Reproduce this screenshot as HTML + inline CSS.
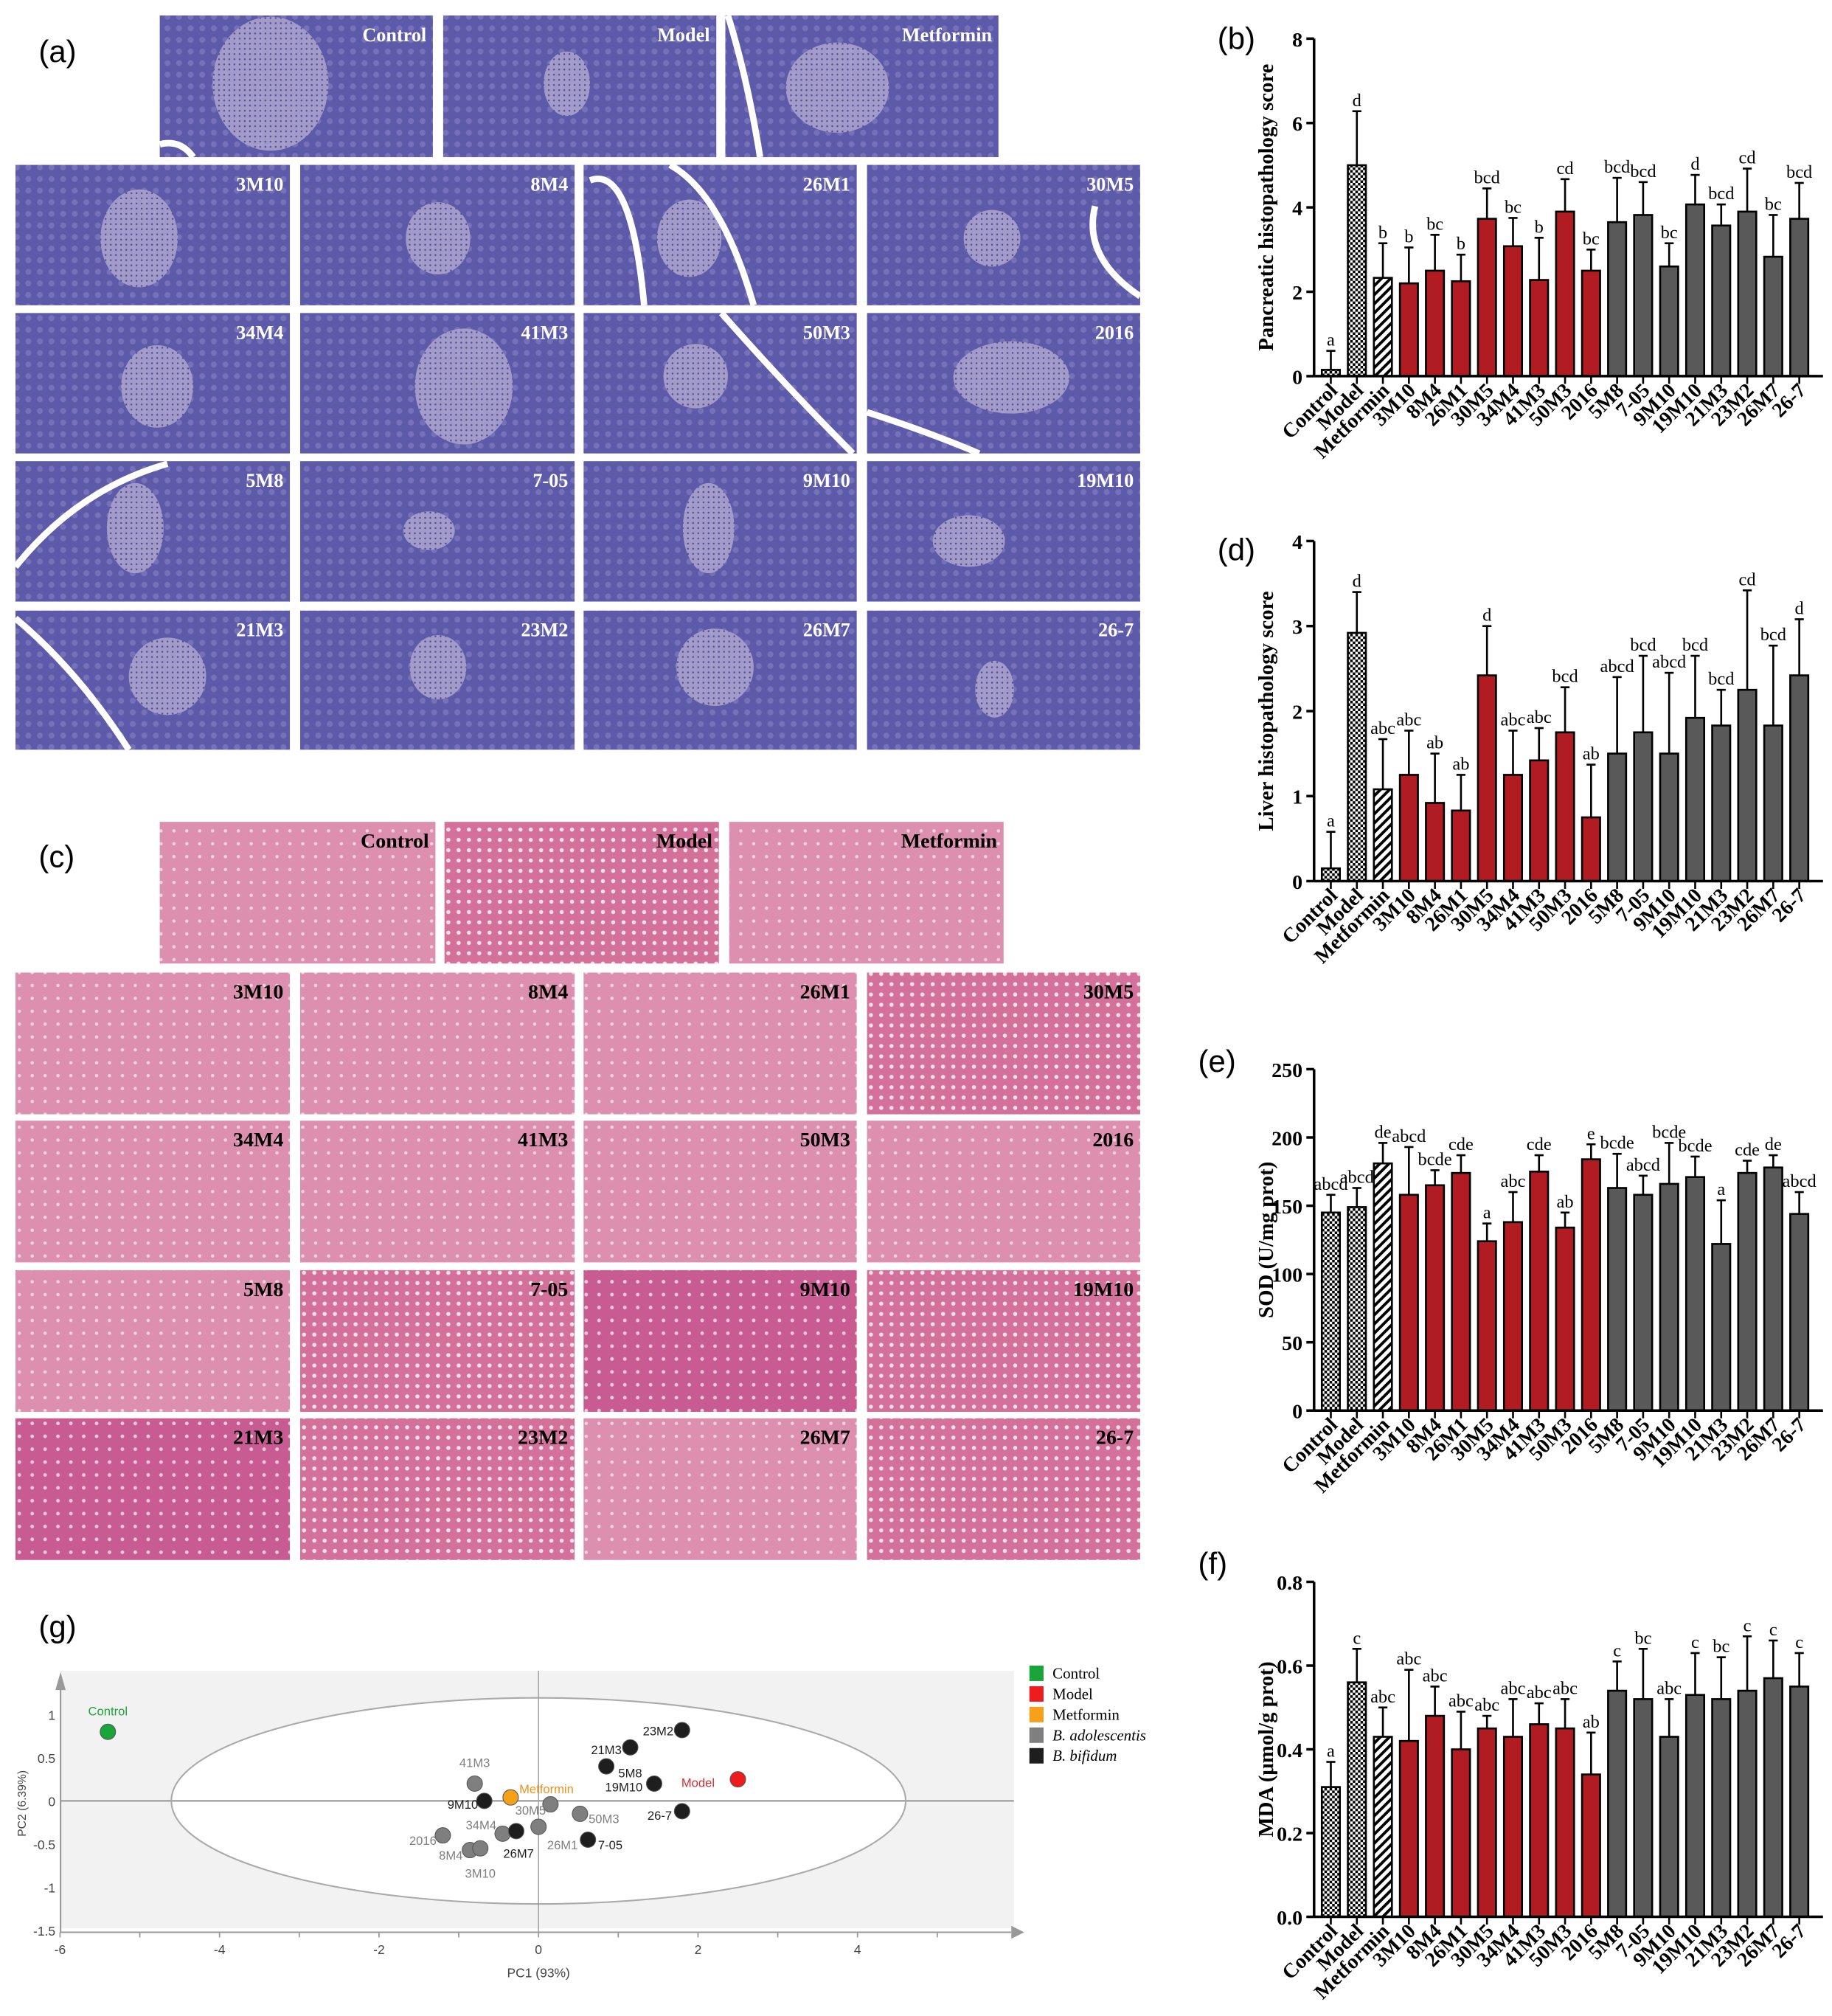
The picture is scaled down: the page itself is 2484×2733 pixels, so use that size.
<!DOCTYPE html>
<html><head><meta charset="utf-8">
<style>html,body{margin:0;padding:0;background:#fff;width:2484px;height:2733px;overflow:hidden}svg{display:block}</style>
</head><body>
<svg id="s" width="2484" height="2733" viewBox="0 0 1422 1565" preserveAspectRatio="none" xmlns="http://www.w3.org/2000/svg">
<defs>
<pattern id="chk" width="4" height="4" patternUnits="userSpaceOnUse"><rect width="4" height="4" fill="#fff"/><rect width="2" height="2" fill="#000"/><rect x="2" y="2" width="2" height="2" fill="#000"/></pattern>
<pattern id="hat" width="5" height="5" patternUnits="userSpaceOnUse" patternTransform="rotate(45)"><rect width="5" height="5" fill="#fff"/><rect width="2.2" height="5" fill="#000"/></pattern>
<pattern id="pur" width="9" height="9" patternUnits="userSpaceOnUse"><rect width="9" height="9" fill="#5d5ba9"/><circle cx="4" cy="4" r="2.3" fill="#7671b8"/></pattern>
<pattern id="isl" width="4" height="4" patternUnits="userSpaceOnUse"><rect width="4" height="4" fill="#aaa2cc"/><circle cx="2" cy="2" r="0.7" fill="#4a4790"/></pattern>
<pattern id="pk" width="10" height="10" patternUnits="userSpaceOnUse"><rect width="10" height="10" fill="#dc8fae"/><circle cx="5" cy="5" r="1.3" fill="#f3d3e0"/></pattern>
<pattern id="pk2" width="8" height="8" patternUnits="userSpaceOnUse"><rect width="8" height="8" fill="#d3719b"/><circle cx="4" cy="4" r="1.6" fill="#f6e1ea"/></pattern>
<pattern id="pk3" width="10" height="10" patternUnits="userSpaceOnUse"><rect width="10" height="10" fill="#c95b93"/><circle cx="5" cy="5" r="1.4" fill="#f0c9dc"/></pattern>
</defs>
<g id="g"></g>
</svg>
<script>
var out=[];
function a(s){out.push(s);}
function T(x,y,t,o){o=o||{};a('<text x="'+x+'" y="'+y+'" font-family="'+(o.f||'Liberation Serif')+'" font-size="'+(o.s||14)+'" font-weight="'+(o.w||'bold')+'" fill="'+(o.c||'#000')+'" text-anchor="'+(o.a||'start')+'"'+(o.t?' transform="'+o.t+'"':'')+(o.st?' font-style="'+o.st+'"':'')+'>'+t+'</text>');}
T(30,48,'(a)',{f:'Liberation Sans',w:'normal',s:24});
T(30,673,'(c)',{f:'Liberation Sans',w:'normal',s:24});
T(945,38,'(b)',{f:'Liberation Sans',w:'normal',s:24});
T(945,435,'(d)',{f:'Liberation Sans',w:'normal',s:24});
T(930,832,'(e)',{f:'Liberation Sans',w:'normal',s:24});
T(930,1222,'(f)',{f:'Liberation Sans',w:'normal',s:24});
T(30,1271,'(g)',{f:'Liberation Sans',w:'normal',s:24});
var top3=[[124,336],[344,556],[563,775]], cols=[[12,225],[233,446],[453,665],[673,885]];
var ra=[[128,237],[243,352],[358,467],[474,582]];
var na=[['3M10','8M4','26M1','30M5'],['34M4','41M3','50M3','2016'],['5M8','7-05','9M10','19M10'],['21M3','23M2','26M7','26-7']];
var isl={'Control':[210,65,45,52],'Model':[440,65,18,25],'Metformin':[650,68,40,35],'3M10':[108,185,30,38],'8M4':[340,185,25,28],'26M1':[535,185,25,30],'30M5':[770,185,22,22],
'34M4':[122,300,28,32],'41M3':[360,300,38,45],'50M3':[540,292,25,25],'2016':[785,293,45,28],'5M8':[105,410,22,35],'7-05':[333,412,20,15],'9M10':[550,410,20,35],'19M10':[752,420,28,20],
'21M3':[130,525,30,30],'23M2':[340,518,22,25],'26M7':[555,518,30,30],'26-7':[772,535,15,22]};
function pa(x0,x1,y0,y1,lab){a('<rect x="'+x0+'" y="'+y0+'" width="'+(x1-x0)+'" height="'+(y1-y0)+'" fill="url(#pur)"/>');
 var e=isl[lab];a('<ellipse cx="'+e[0]+'" cy="'+e[1]+'" rx="'+e[2]+'" ry="'+e[3]+'" fill="url(#isl)" opacity="0.9"/>');
 T(x1-5,y0+20,lab,{c:'#fff',a:'end',s:15});}
['Control','Model','Metformin'].forEach(function(l,i){pa(top3[i][0],top3[i][1],12,122,l);});
for(var r=0;r<4;r++)for(var c=0;c<4;c++)pa(cols[c][0],cols[c][1],ra[r][0],ra[r][1],na[r][c]);
a('<path d="M124 112 Q140 108 150 122 M458 140 Q490 128 500 237 M520 128 Q560 150 585 237 M850 160 Q840 200 885 230 M560 243 Q610 300 662 352 M673 320 Q720 335 760 352 M12 440 Q60 380 130 360 M12 480 Q60 520 100 582 M565 12 Q580 60 590 122" stroke="#fff" stroke-width="5" fill="none"/>');
var topc=[[124,338],[345,558],[566,779]];
var rc=[[755,865],[870,980],[986,1096],[1101,1211]];
var pat={'Model':'pk2','9M10':'pk3','21M3':'pk3','7-05':'pk2','19M10':'pk2','23M2':'pk2','26-7':'pk2','30M5':'pk2'};
function pc(x0,x1,y0,y1,lab){a('<rect x="'+x0+'" y="'+y0+'" width="'+(x1-x0)+'" height="'+(y1-y0)+'" fill="url(#'+(pat[lab]||'pk')+')"/>');T(x1-5,y0+20,lab,{a:'end',s:16});}
['Control','Model','Metformin'].forEach(function(l,i){pc(topc[i][0],topc[i][1],638,748,l);});
for(var r=0;r<4;r++)for(var c=0;c<4;c++)pc(cols[c][0],cols[c][1],rc[r][0],rc[r][1],na[r][c]);
var names=['Control','Model','Metformin','3M10','8M4','26M1','30M5','34M4','41M3','50M3','2016','5M8','7-05','9M10','19M10','21M3','23M2','26M7','26-7'];
function fillFor(i){if(i<=1)return 'url(#chk)';if(i==2)return 'url(#hat)';return i<=10?'#b11b22':'#595959';}
function chart(y0,yTop,max,step,dec,vals,errs,lets,ylab){
 var ax=1020,x1=1415;function Y(v){return y0-(v/max)*(y0-yTop);}
 a('<line x1="'+ax+'" y1="'+yTop+'" x2="'+ax+'" y2="'+y0+'" stroke="#000" stroke-width="2"/>');
 for(var v=0;v<=max+1e-9;v+=step){var yy=Y(v);a('<line x1="'+(ax-6)+'" y1="'+yy+'" x2="'+ax+'" y2="'+yy+'" stroke="#000" stroke-width="2"/>');T(ax-9,yy+6,dec?v.toFixed(dec):String(Math.round(v)),{a:'end',s:16});}
 T(0,0,ylab,{a:'middle',s:16.5,t:'translate(988,'+((y0+yTop)/2)+') rotate(-90)'});
 for(var i=0;i<19;i++){var cx=1033+i*20.2,bw=14,yb=Y(vals[i]),ye=Y(errs[i]);
  a('<line x1="'+cx+'" y1="'+ye+'" x2="'+cx+'" y2="'+yb+'" stroke="#000" stroke-width="1.5"/><line x1="'+(cx-3.5)+'" y1="'+ye+'" x2="'+(cx+3.5)+'" y2="'+ye+'" stroke="#000" stroke-width="1.5"/>');
  a('<rect x="'+(cx-bw/2)+'" y="'+yb+'" width="'+bw+'" height="'+(y0-yb)+'" fill="'+fillFor(i)+'" stroke="#000" stroke-width="1.5"/>');
  T(cx,ye-4,lets[i],{a:'middle',s:14,w:'normal'});
  a('<line x1="'+cx+'" y1="'+y0+'" x2="'+cx+'" y2="'+(y0+6)+'" stroke="#000" stroke-width="1.5"/>');
  T(0,0,names[i],{a:'end',s:16,t:'translate('+(cx+6)+','+(y0+12)+') rotate(-45)'});}
 a('<line x1="'+ax+'" y1="'+y0+'" x2="'+x1+'" y2="'+y0+'" stroke="#000" stroke-width="2"/>');}
chart(292,30,8,2,0,[0.15,5,2.33,2.2,2.5,2.25,3.73,3.08,2.28,3.9,2.5,3.65,3.82,2.6,4.07,3.57,3.9,2.83,3.73],
[0.6,6.28,3.15,3.05,3.35,2.88,4.45,3.75,3.28,4.67,3.0,4.7,4.6,3.15,4.77,4.07,4.92,3.82,4.58],
['a','d','b','b','bc','b','bcd','bc','b','cd','bc','bcd','bcd','bc','d','bcd','cd','bc','bcd'],'Pancreatic histopathology score');
chart(684,420,4,1,0,[0.15,2.92,1.08,1.25,0.92,0.83,2.42,1.25,1.42,1.75,0.75,1.5,1.75,1.5,1.92,1.83,2.25,1.83,2.42],
[0.58,3.4,1.67,1.77,1.5,1.25,3.0,1.77,1.8,2.28,1.37,2.4,2.65,2.45,2.65,2.25,3.42,2.77,3.08],
['a','d','abc','abc','ab','ab','d','abc','abc','bcd','ab','abcd','bcd','abcd','bcd','bcd','cd','bcd','d'],'Liver histopathology score');
chart(1095,830,250,50,0,[145,149,181,158,165,174,124,138,175,134,184,163,158,166,171,122,174,178,144],
[158,163,196,193,176,187,137,160,187,145,195,188,172,196,186,154,183,187,160],
['abcd','abcd','de','abcd','bcde','cde','a','abc','cde','ab','e','bcde','abcd','bcde','bcde','a','cde','de','abcd'],'SOD (U/mg prot)');
chart(1488,1228,0.8,0.2,1,[0.31,0.56,0.43,0.42,0.48,0.4,0.45,0.43,0.46,0.45,0.34,0.54,0.52,0.43,0.53,0.52,0.54,0.57,0.55],
[0.37,0.64,0.5,0.59,0.55,0.49,0.48,0.52,0.51,0.52,0.44,0.61,0.64,0.52,0.63,0.62,0.67,0.66,0.63],
['a','c','abc','abc','abc','abc','abc','abc','abc','abc','ab','c','bc','abc','c','bc','c','c','c'],'MDA  (μmol/g prot)');
function PX(v){return 418+v*61.9;}function PY(v){return 1398-v*67;}
a('<rect x="47" y="1297" width="740" height="200" fill="#f2f2f2"/>');
a('<ellipse cx="418" cy="1398" rx="285" ry="80" fill="#fff" stroke="#aaa" stroke-width="1.2"/>');
a('<line x1="418" y1="1297" x2="418" y2="1500" stroke="#999" stroke-width="0.8"/><line x1="47" y1="1398" x2="787" y2="1398" stroke="#aaa" stroke-width="1.5"/>');
a('<line x1="47" y1="1500" x2="785" y2="1500" stroke="#999" stroke-width="1.2"/><path d="M785 1495 L795 1500 L785 1505Z" fill="#999"/>');
a('<line x1="47" y1="1302" x2="47" y2="1500" stroke="#999" stroke-width="1.2"/><path d="M43 1312 L47 1298 L51 1312Z" fill="#999"/>');
[-6,-4,-2,0,2,4].forEach(function(v){T(PX(v),1517,String(v),{f:'Liberation Sans',w:'normal',s:10,a:'middle',c:'#444'});});
for(var v=-6;v<=5;v++)a('<line x1="'+PX(v)+'" y1="1500" x2="'+PX(v)+'" y2="1504" stroke="#999"/>');
[[1,'1'],[0.5,'0.5'],[0,'0'],[-0.5,'-0.5'],[-1,'-1'],[-1.5,'-1.5']].forEach(function(p){T(43,PY(p[0])+4,p[1],{f:'Liberation Sans',w:'normal',s:10,a:'end',c:'#444'});});
T(418,1535,'PC1 (93%)',{f:'Liberation Sans',w:'normal',s:10,a:'middle',c:'#444'});
T(0,0,'PC2 (6.39%)',{f:'Liberation Sans',w:'normal',s:9,a:'middle',c:'#444',t:'translate(20,1400) rotate(-90)'});
var G='#7f7f7f',B='#1e1e1e';
var pts=[['Control',-5.4,0.8,'#1aa53a',-5.4,1.05,'#1aa53a'],['Model',2.5,0.25,'#ee1c1c',2.0,0.22,'#d23030'],['Metformin',-0.35,0.04,'#f7a01a',0.1,0.15,'#e8941a'],
['41M3',-0.8,0.2,G,-0.8,0.45,G],['9M10',-0.68,0,B,-0.95,-0.03,B],['30M5',0.15,-0.04,G,-0.1,-0.1,G],['50M3',0.52,-0.15,G,0.82,-0.2,G],
['34M4',-0.45,-0.38,G,-0.72,-0.27,G],['26M7',-0.28,-0.35,B,-0.25,-0.6,B],['26M1',0,-0.3,G,0.3,-0.5,G],['7-05',0.62,-0.45,B,0.9,-0.5,B],
['2016',-1.2,-0.4,G,-1.45,-0.45,G],['8M4',-0.86,-0.57,G,-1.1,-0.62,G],['3M10',-0.73,-0.55,G,-0.73,-0.83,G],
['23M2',1.8,0.82,B,1.5,0.82,B],['21M3',1.15,0.62,B,0.85,0.6,B],['5M8',0.85,0.4,B,1.15,0.33,B],['19M10',1.45,0.2,B,1.07,0.17,B],['26-7',1.8,-0.12,B,1.52,-0.16,B]];
pts.forEach(function(p){a('<circle cx="'+PX(p[1])+'" cy="'+PY(p[2])+'" r="6" fill="'+p[3]+'" stroke="#555" stroke-width="0.6"/>');T(PX(p[4]),PY(p[5])+4,p[0],{f:'Liberation Sans',w:'normal',s:9.5,a:'middle',c:p[6]});});
[['#1aa53a','Control',''],['#ee1c1c','Model',''],['#f7a01a','Metformin',''],['#7f7f7f','B. adolescentis','italic'],['#1e1e1e','B. bifidum','italic']].forEach(function(l,i){var y=1293+i*16;
a('<rect x="799" y="'+y+'" width="11" height="12" fill="'+l[0]+'"/>');T(817,y+10,l[1],{f:'Liberation Serif',w:'normal',s:12,st:l[2]||'normal'});});
document.getElementById('g').innerHTML=out.join('');
</script>
</body></html>
